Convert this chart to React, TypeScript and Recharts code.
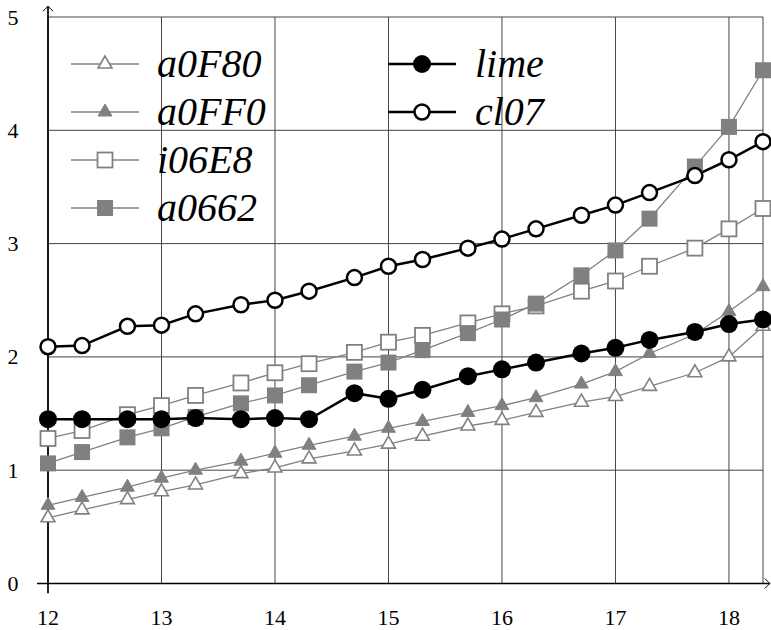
import React from "react"
import {
  LineChart,
  Line,
  XAxis,
  YAxis,
  CartesianGrid,
  ReferenceLine,
  Legend,
} from "recharts"

const xs = [12, 12.3, 12.7, 13, 13.3, 13.7, 14, 14.3, 14.7, 15, 15.3, 15.7, 16, 16.3, 16.7, 17, 17.3, 17.7, 18, 18.3]
const a0F80 = [0.58, 0.65, 0.74, 0.81, 0.87, 0.97, 1.02, 1.1, 1.17, 1.23, 1.3, 1.39, 1.44, 1.51, 1.6, 1.65, 1.74, 1.86, 2.0, 2.27]
const a0FF0 = [0.69, 0.76, 0.85, 0.93, 1.0, 1.08, 1.15, 1.22, 1.3, 1.37, 1.43, 1.51, 1.57, 1.64, 1.76, 1.87, 2.03, 2.2, 2.4, 2.62]
const i06E8 = [1.28, 1.35, 1.49, 1.57, 1.66, 1.77, 1.86, 1.94, 2.04, 2.13, 2.19, 2.3, 2.38, 2.45, 2.58, 2.67, 2.8, 2.96, 3.13, 3.31]
const a0662 = [1.06, 1.16, 1.29, 1.37, 1.47, 1.59, 1.66, 1.75, 1.87, 1.95, 2.06, 2.21, 2.33, 2.47, 2.72, 2.94, 3.22, 3.68, 4.03, 4.53]
const lime = [1.45, 1.45, 1.45, 1.45, 1.46, 1.45, 1.46, 1.45, 1.68, 1.63, 1.71, 1.83, 1.89, 1.95, 2.03, 2.08, 2.15, 2.22, 2.29, 2.33]
const cl07 = [2.09, 2.1, 2.27, 2.28, 2.38, 2.46, 2.5, 2.58, 2.7, 2.8, 2.86, 2.96, 3.04, 3.13, 3.25, 3.34, 3.45, 3.6, 3.74, 3.9]

const xTicks = [12, 13, 14, 15, 16, 17, 18]
const yTicks = [0, 1, 2, 3, 4, 5]

const data = xs.map((x, i) => ({
  x,
  a0F80: a0F80[i],
  a0FF0: a0FF0[i],
  i06E8: i06E8[i],
  a0662: a0662[i],
  lime: lime[i],
  cl07: cl07[i],
}))

const GRAY = "#808080"
const FONT = "Liberation Serif"

type Mk = "tri" | "triFill" | "sq" | "sqFill" | "dot" | "ring"

const marker = (kind: Mk, cx: number, cy: number, key?: any) => {
  if (kind === "tri" || kind === "triFill") {
    const r = 8
    const pts = `${cx},${cy - r} ${cx - r * 0.866},${cy + r / 2} ${cx + r * 0.866},${cy + r / 2}`
    return kind === "tri" ? (
      <polygon key={key} points={pts} fill="#fff" stroke={GRAY} strokeWidth={1.6} />
    ) : (
      <polygon key={key} points={pts} fill={GRAY} stroke={GRAY} strokeWidth={1} />
    )
  }
  if (kind === "sq") {
    return <rect key={key} x={cx - 7.5} y={cy - 7.5} width={15} height={15} fill="#fff" stroke={GRAY} strokeWidth={1.8} />
  }
  if (kind === "sqFill") {
    return <rect key={key} x={cx - 8} y={cy - 8} width={16} height={16} fill={GRAY} />
  }
  if (kind === "dot") {
    return <circle key={key} cx={cx} cy={cy} r={9} fill="#000" />
  }
  return <circle key={key} cx={cx} cy={cy} r={7.5} fill="#fff" stroke="#000" strokeWidth={2.5} />
}

const dotFor = (kind: Mk) => (p: any) => marker(kind, p.cx, p.cy, `m-${p.index}`)

const series: { key: string; kind: Mk; black: boolean }[] = [
  { key: "a0F80", kind: "tri", black: false },
  { key: "a0FF0", kind: "triFill", black: false },
  { key: "i06E8", kind: "sq", black: false },
  { key: "a0662", kind: "sqFill", black: false },
  { key: "lime", kind: "dot", black: true },
  { key: "cl07", kind: "ring", black: true },
]

const XTick = ({ x, y, payload }: any) => (
  <text x={x} y={y} dy={41.5} textAnchor="middle" fontSize={22} style={{ fontFamily: FONT }} fill="#000">
    {payload.value}
  </text>
)

const YTick = ({ x, y, payload }: any) => (
  <text x={x} y={y} dx={-35} dy={7.5} textAnchor="middle" fontSize={22} style={{ fontFamily: FONT }} fill="#000">
    {payload.value}
  </text>
)

const XArrow = (p: any) => (
  <g>
    <line x1={p.x1} y1={p.y1} x2={p.x2} y2={p.y2} stroke="#000" strokeWidth={1.5} />
    <polyline
      points={`${p.x2 - 5},${p.y2 - 5} ${p.x2},${p.y2} ${p.x2 - 5},${p.y2 + 5}`}
      fill="none"
      stroke="#000"
      strokeWidth={1}
    />
  </g>
)

const YArrow = (p: any) => (
  <g>
    <line x1={p.x1} y1={p.y1} x2={p.x2} y2={p.y2} stroke="#000" strokeWidth={1.7} />
    <polyline
      points={`${p.x2 - 5},${p.y2 + 5} ${p.x2},${p.y2} ${p.x2 + 5},${p.y2 + 5}`}
      fill="none"
      stroke="#000"
      strokeWidth={1}
    />
  </g>
)

// legend drawn in page coords, two columns
const legendCols = [
  { lineX: [71, 139], mx: 105, tx: 157, names: ["a0F80", "a0FF0", "i06E8", "a0662"] },
  { lineX: [388, 456], mx: 422, tx: 475, names: ["lime", "cl07"] },
]
const legendRows = [64, 112, 160, 208]

const LegendBox = () => (
  <svg width={771} height={240} style={{ display: "block" }}>
    {legendCols.map((col) =>
      col.names.map((name, r) => {
        const s = series.find((q) => q.key === name)!
        const y = legendRows[r]
        return (
          <g key={name}>
            <line
              x1={col.lineX[0]}
              x2={col.lineX[1]}
              y1={y}
              y2={y}
              stroke={s.black ? "#000" : GRAY}
              strokeWidth={s.black ? 2.5 : 1.3}
            />
            {marker(s.kind, col.mx, y)}
            <text x={col.tx} y={y + 13} fontSize={40} fontStyle="italic" style={{ fontFamily: FONT }} fill="#000">
              {name}
            </text>
          </g>
        )
      })
    )}
  </svg>
)

export default function App() {
  return (
    <div style={{ width: 771, height: 630, position: "absolute", left: 0, top: 0, fontFamily: FONT }}>
      <LineChart width={771} height={630} data={data} margin={{ top: 17, right: 8, left: 0, bottom: 0 }}>
        <CartesianGrid stroke="#444" strokeWidth={1} />
        <XAxis
          dataKey="x"
          type="number"
          domain={[12, 18.3]}
          ticks={xTicks}
          height={46.5}
          axisLine={false}
          tickLine={false}
          tickSize={0}
          tickMargin={0}
          tick={<XTick />}
          interval={0}
        />
        <YAxis
          type="number"
          domain={[0, 5]}
          ticks={yTicks}
          width={48}
          axisLine={false}
          tickLine={false}
          tickSize={0}
          tickMargin={0}
          tick={<YTick />}
          interval={0}
        />
        <ReferenceLine
          segment={[
            { x: 11.903, y: 0 },
            { x: 18.36, y: 0 },
          ]}
          ifOverflow="visible"
          shape={XArrow}
        />
        <ReferenceLine
          segment={[
            { x: 12, y: -0.085 },
            { x: 12, y: 5.095 },
          ]}
          ifOverflow="visible"
          shape={YArrow}
        />
        <Legend
          layout="horizontal"
          verticalAlign="middle"
          align="center"
          wrapperStyle={{ position: "absolute", left: 0, top: 0, width: 771, height: 240, pointerEvents: "none" }}
          content={() => <LegendBox />}
        />
        {series.map((s) => (
          <Line
            key={s.key}
            dataKey={s.key}
            type="linear"
            stroke={s.black ? "#000" : GRAY}
            strokeWidth={s.black ? 2.5 : 1.3}
            dot={dotFor(s.kind)}
            activeDot={false}
            isAnimationActive={false}
          />
        ))}
      </LineChart>
    </div>
  )
}
